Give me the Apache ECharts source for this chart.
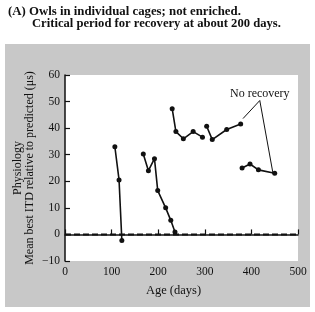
<!DOCTYPE html>
<html><head><meta charset="utf-8">
<script src="https://cdn.jsdelivr.net/npm/echarts@6/dist/echarts.min.js"></script>
<style>html,body{margin:0;padding:0;background:#fff}#c{width:315px;height:312px}</style>
</head><body><div id="c"></div>
<script>
// Data (age in days, mean best ITD relative to predicted in µs)
var ageA = [107, 116, 122];
var itdA = [33, 20.5, -2.3];
var ageB = [168, 179, 192, 199, 216, 227, 236];
var itdB = [30.3, 24, 28.5, 16.5, 10, 5.3, 0.9];
var ageC = [230, 238, 254, 275, 295];
var itdC = [47.3, 38.7, 36, 38.7, 36.6];
var ageD = [304, 316, 347, 377];
var itdD = [40.7, 35.7, 39.5, 41.6];
var ageE = [380, 397, 415, 450];
var itdE = [25, 26.5, 24.3, 23];
var baselineAge = [0, 500];
var baselineItd = [0, 0];
var leaderAge = [382, 418, 446];
var leaderItd = [43.6, 50.4, 23.3];
var xTicks = [0, 100, 200, 300, 400, 500];
var yTicks = [-10, 0, 10, 20, 30, 40, 50, 60];
var titleLine1 = '(A) Owls in individual cages; not enriched.';
var titleLine2 = 'Critical period for recovery at about 200 days.';
var noteText = 'No recovery';

function pairs(xs, ys) { return xs.map(function (x, i) { return [x, ys[i]]; }); }

var SERIF = '"Liberation Serif", "DejaVu Serif", serif';
var INK = '#111';

function dataSeries(xs, ys) {
  return {
    type: 'line', data: pairs(xs, ys), symbol: 'circle', symbolSize: 5,
    itemStyle: { color: INK }, lineStyle: { color: INK, width: 1.6 },
    animation: false, z: 5
  };
}

var leaderData = pairs(leaderAge, leaderItd).map(function (p, i) {
  return i === 1 ? { value: p, label: { show: true, formatter: noteText, position: 'top', distance: 1,
    fontFamily: SERIF, fontSize: 12, color: INK } } : p;
});

var chart = echarts.init(document.getElementById('c'), null, { renderer: 'canvas' });
chart.setOption({
  backgroundColor: '#ffffff',
  animation: false,
  graphic: [
    { type: 'rect', z: -10, silent: true, shape: { x: 5, y: 44, width: 305, height: 263 }, style: { fill: '#c8c8c8' } },
    { type: 'text', x: 8, y: 12, style: { text: titleLine1, font: 'bold 12.8px ' + SERIF, fill: INK, verticalAlign: 'middle', textVerticalAlign: 'middle' } },
    { type: 'text', x: 32, y: 24, style: { text: titleLine2, font: 'bold 12.6px ' + SERIF, fill: INK, verticalAlign: 'middle', textVerticalAlign: 'middle' } }
  ],
  grid: { left: 65, right: 17, top: 75, bottom: 51, show: true, backgroundColor: '#ffffff', borderWidth: 0,
    containLabel: false, outerBoundsMode: 'none' },
  xAxis: {
    type: 'value', min: xTicks[0], max: xTicks[xTicks.length - 1], interval: 100,
    name: 'Age (days)', nameLocation: 'middle', nameGap: 23, nameMoveOverlap: false,
    nameTextStyle: { fontFamily: SERIF, fontSize: 12.5, color: INK, padding: [0, 16, 0, 0] },
    axisLine: { lineStyle: { color: INK, width: 1.5 } },
    axisTick: { inside: true, length: 5, lineStyle: { color: INK, width: 1.2 } },
    axisLabel: { fontFamily: SERIF, fontSize: 11.5, color: INK, margin: 5 },
    splitLine: { show: false }
  },
  yAxis: {
    type: 'value', min: yTicks[0], max: yTicks[yTicks.length - 1], interval: 10,
    name: 'Physiology\nMean best ITD relative to predicted (\u03bcs)', nameLocation: 'middle', nameGap: 29, nameRotate: 90,
    nameMoveOverlap: false,
    nameTextStyle: { fontFamily: SERIF, fontSize: 12, color: INK, lineHeight: 12 },
    axisLine: { lineStyle: { color: INK, width: 1.5 } },
    axisTick: { inside: true, length: 5, lineStyle: { color: INK, width: 1.2 } },
    axisLabel: { fontFamily: SERIF, fontSize: 11.5, color: INK, margin: 5,
      formatter: function (v) { return v < 0 ? '\u2212' + Math.abs(v) : String(v); } },
    splitLine: { show: false }
  },
  series: [
    { type: 'line', data: pairs(baselineAge, baselineItd), symbol: 'none',
      lineStyle: { color: INK, width: 2, type: [6, 3] }, animation: false, z: 3 },
    dataSeries(ageA, itdA),
    dataSeries(ageB, itdB),
    dataSeries(ageC, itdC),
    dataSeries(ageD, itdD),
    dataSeries(ageE, itdE),
    { type: 'line', data: leaderData, symbol: 'circle', symbolSize: 0.01, showSymbol: true,
      itemStyle: { color: INK }, lineStyle: { color: INK, width: 1 }, animation: false, z: 4,
      label: { show: false } }
  ]
});
</script></body></html>
